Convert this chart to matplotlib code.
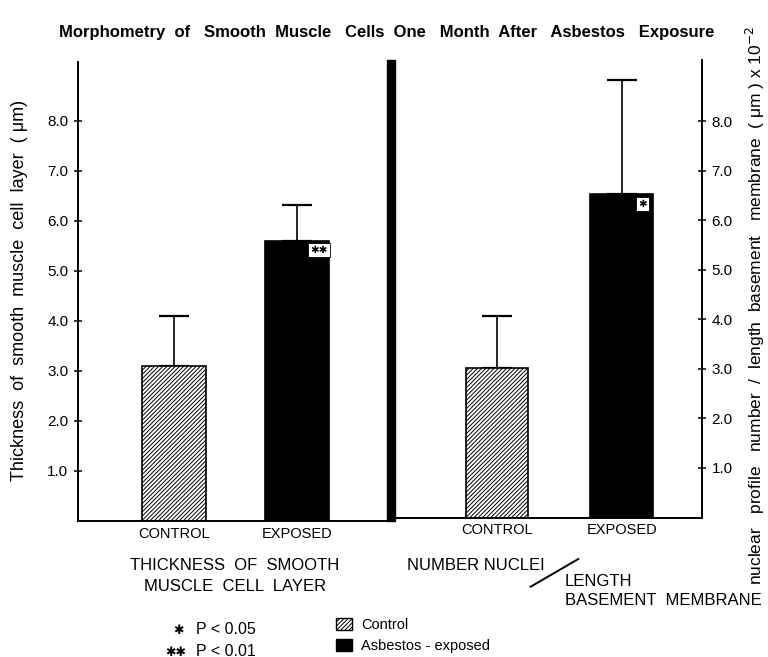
import matplotlib
matplotlib.use("Agg")
import matplotlib.pyplot as plt
import matplotlib.patches as mp
from matplotlib.lines import Line2D

plt.rcParams['font.family'] = ['Liberation Sans', 'DejaVu Sans']
plt.rcParams['hatch.linewidth'] = 0.7

# --- data ---
categories = ['CONTROL', 'EXPOSED']
thickness = [3.1, 5.6]          # um
thickness_err = [1.0, 0.72]
nuclei = [3.02, 6.53]           # x 10^-2 per um
nuclei_err = [1.05, 2.31]
sig_thickness = ['', '✱✱']
sig_nuclei = ['', '✱']
yticks = [1, 2, 3, 4, 5, 6, 7, 8]
ytick_labels = ['%.1f' % t for t in yticks]

W, H = 768, 657
fig = plt.figure(figsize=(W / 100, H / 100), dpi=100)

def fx(px):
    return px / W

def fy(py):
    return 1 - py / H

# left panel axes (pixel box 78..387, 62..520.7)
axL = fig.add_axes([fx(78), fy(520.7), fx(387 - 78), (520.7 - 62) / H])
# right panel axes (pixel box 395..701.7, 60..517.5)
axR = fig.add_axes([fx(395), fy(517.5), fx(701.7 - 395), (517.5 - 60) / H])

hatches = ['////////', None]
colors = ['white', 'black']

def panel(ax, vals, errs, sigs, width, xlim, ylim):
    x = range(len(vals))
    for i in x:
        ax.bar(i, vals[i], width=width, color=colors[i], edgecolor='black',
               hatch=hatches[i], linewidth=1.2, zorder=2)
    ax.errorbar(list(x), vals, yerr=[[0] * len(vals), errs], fmt='none',
                ecolor='black', elinewidth=1.2, capsize=11, capthick=1.6,
                zorder=1)
    for i in x:
        if sigs[i]:
            ax.annotate(sigs[i], xy=(i + width / 2, vals[i]),
                        xytext=(-7.5, -7), textcoords='offset points',
                        ha='center', va='center', fontsize=7.5,
                        family=['DejaVu Sans'],
                        bbox=dict(boxstyle='square,pad=0.2', fc='white',
                                  ec='black', lw=0.6), zorder=3)
    ax.set_xlim(*xlim)
    ax.set_ylim(*ylim)
    ax.set_xticks([])
    ax.set_yticks(yticks)
    ax.set_yticklabels(ytick_labels)
    ax.tick_params(axis='y', direction='inout', length=6, width=1.1,
                   labelsize=11, pad=4)
    ax.spines['top'].set_visible(False)
    ax.spines['bottom'].set_linewidth(1.4)
    ax.patch.set_alpha(0)
    for i, c in enumerate(categories):
        ax.text(i, -0.12, c, ha='center', va='top', fontsize=10.5)

panel(axL, thickness, thickness_err, sig_thickness, 0.518,
      (-0.777, 1.725), (0, 9.17))
axL.spines['right'].set_visible(False)
axL.spines['left'].set_linewidth(1.4)

panel(axR, nuclei, nuclei_err, sig_nuclei, 0.505,
      (-0.818, 1.642), (0, 9.24))
axR.spines['left'].set_visible(False)
axR.spines['right'].set_linewidth(1.4)
axR.yaxis.tick_right()

# thick divider between the two panels
fig.add_artist(mp.Rectangle((fx(387), fy(521)), fx(8), 461 / H,
                            transform=fig.transFigure, color='black'))

# titles / axis labels
fig.text(fx(387), fy(33), 'Morphometry  of   Smooth  Muscle   Cells  One   Month  After   Asbestos   Exposure',
         ha='center', va='center', fontsize=12, weight='bold')
fig.text(fx(20), fy(290), 'Thickness  of  smooth  muscle  cell  layer  ( μm)',
         ha='center', va='center', rotation=90, fontsize=13)
fig.text(fx(755), fy(305),
         'nuclear   profile   number  /  length  basement   membrane  ( μm ) x 10$^{-2}$',
         ha='center', va='center', rotation=90, fontsize=12.5)

# group labels
fig.text(fx(235), fy(576), 'THICKNESS  OF  SMOOTH\nMUSCLE  CELL  LAYER',
         ha='center', va='center', fontsize=12, linespacing=1.45)
fig.text(fx(407), fy(566), 'NUMBER NUCLEI', ha='left', va='center', fontsize=12)
fig.add_artist(Line2D([fx(530.7), fx(578.3)], [fy(586.7), fy(559)],
                      transform=fig.transFigure, color='black', lw=1.4))
fig.text(fx(565), fy(591), 'LENGTH\nBASEMENT  MEMBRANE', ha='left',
         va='center', fontsize=12, linespacing=1.3)

# significance key
fig.text(fx(178), fy(631), '✱', ha='center', va='center', fontsize=9,
         family=['DejaVu Sans'])
fig.text(fx(196), fy(630), 'P < 0.05', ha='left', va='center', fontsize=11.5)
fig.text(fx(176), fy(652), '✱✱', ha='center', va='center', fontsize=9,
         family=['DejaVu Sans'])
fig.text(fx(196), fy(651), 'P < 0.01', ha='left', va='center', fontsize=11.5)

# bar legend
handles = [mp.Patch(facecolor='white', edgecolor='black', hatch='////////',
                    label='Control'),
           mp.Patch(facecolor='black', edgecolor='black',
                    label='Asbestos - exposed')]
fig.legend(handles=handles, loc='upper left',
           bbox_to_anchor=(fx(336), fy(618)), frameon=False, fontsize=10.5,
           handlelength=1.1, handleheight=0.9, handletextpad=0.6,
           labelspacing=0.5, borderpad=0, borderaxespad=0)

fig.savefig('out.png', dpi=100, facecolor='white')
